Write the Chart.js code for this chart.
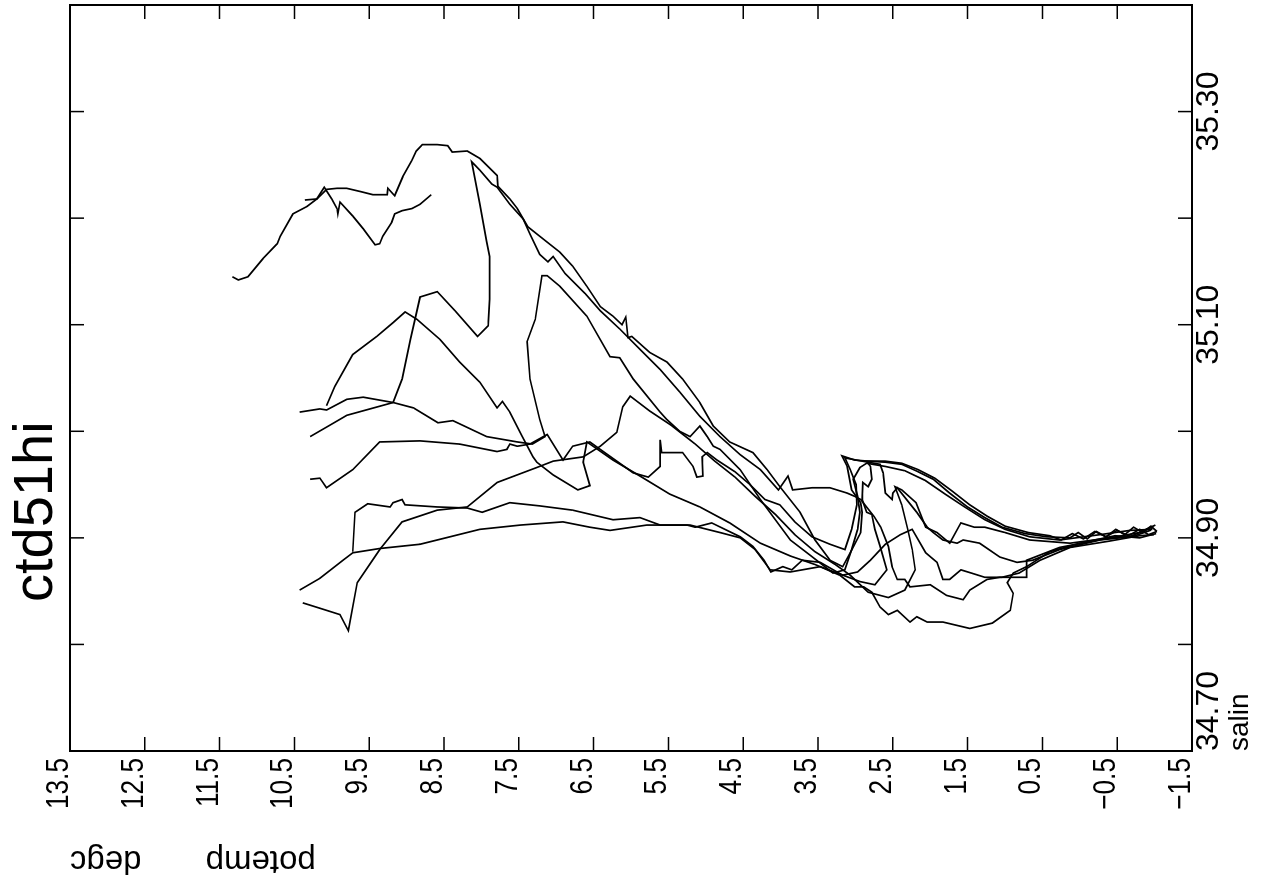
<!DOCTYPE html>
<html>
<head>
<meta charset="utf-8">
<title>ctd51hi</title>
<script src="https://cdn.jsdelivr.net/npm/chart.js@4.4.1/dist/chart.umd.min.js"></script>
<style>
  html, body { margin: 0; padding: 0; background: #fff; overflow: hidden; width: 1267px; height: 882px; }
  /* the T-S plot is laid out upright and then turned a quarter turn to the left */
  #turn { position: absolute; left: 0; top: 0; width: 882px; height: 1267px;
          transform-origin: 0 0; transform: translate(0, 882px) rotate(-90deg); }
</style>
</head>
<body>
<div id="turn"><canvas id="ts" width="882" height="1267"></canvas></div>
<script>
// station profiles, pairs of [salin, potemp degC]
const stn1 = [[35.145,11.33],[35.142,11.25],[35.145,11.12],[35.162,10.92],[35.176,10.73],[35.183,10.69],[35.204,10.52],[35.211,10.33],[35.218,10.20],[35.229,10.10],[35.218,10.00],[35.209,9.93],[35.204,9.92],[35.215,9.89],[35.202,9.72],[35.190,9.58],[35.175,9.42],[35.176,9.36],[35.183,9.32],[35.196,9.20],[35.204,9.16],[35.207,9.06],[35.209,8.93],[35.213,8.82],[35.222,8.67]];
const stn2 = [[35.217,10.36],[35.218,10.20],[35.227,10.07],[35.228,9.93],[35.228,9.80],[35.225,9.62],[35.222,9.45],[35.222,9.26],[35.228,9.25],[35.221,9.16],[35.239,9.05],[35.254,8.93],[35.263,8.87],[35.269,8.79],[35.269,8.59],[35.268,8.45],[35.262,8.39],[35.263,8.19],[35.256,8.02],[35.240,7.79],[35.230,7.78],[35.218,7.62],[35.209,7.52],[35.192,7.38],[35.183,7.22],[35.168,6.95],[35.155,6.78],[35.136,6.59],[35.117,6.41],[35.108,6.24],[35.100,6.12],[35.107,6.07],[35.088,6.04],[35.089,5.99],[35.074,5.75],[35.065,5.52],[35.049,5.31],[35.027,5.08],[35.005,4.90],[34.990,4.68],[34.980,4.37],[34.964,4.18],[34.948,4.01],[34.924,3.74],[34.898,3.54],[34.879,3.34],[34.873,3.17],[34.886,3.07],[34.905,2.93],[34.924,2.91],[34.933,2.93],[34.945,3.05],[34.967,3.11],[34.977,3.18],[34.973,3.01],[34.972,2.83],[34.971,2.60],[34.969,2.38],[34.962,2.16],[34.955,1.96],[34.942,1.74],[34.929,1.50],[34.919,1.27],[34.910,1.04],[34.904,0.73],[34.901,0.44],[34.900,0.13],[34.905,0.02],[34.899,-0.10],[34.906,-0.22],[34.901,-0.35],[34.908,-0.48],[34.903,-0.60],[34.910,-0.72],[34.905,-0.84],[34.911,-0.95],[34.906,-1.03]];
const stn3 = [[34.995,10.29],[35.006,10.02],[35.015,9.80],[35.021,9.49],[35.027,9.18],[35.049,9.06],[35.086,8.95],[35.126,8.82],[35.131,8.59],[35.113,8.35],[35.089,8.05],[35.099,7.91],[35.124,7.89],[35.164,7.89],[35.178,7.93],[35.213,8.02],[35.253,8.13],[35.245,8.02],[35.232,7.86],[35.229,7.79],[35.213,7.62],[35.199,7.44],[35.185,7.35],[35.166,7.22],[35.159,7.11],[35.164,7.04],[35.148,6.88],[35.129,6.61],[35.113,6.41],[35.096,6.15],[35.077,5.88],[35.058,5.61],[35.037,5.35],[35.014,5.08],[34.995,4.81],[34.978,4.54],[34.964,4.27],[34.945,4.03],[34.958,3.90],[34.945,3.84],[34.947,3.58],[34.947,3.34],[34.942,3.11],[34.939,3.01],[34.936,2.93],[34.920,2.75],[34.910,2.66],[34.892,2.56],[34.873,2.51],[34.861,2.44],[34.861,2.34],[34.854,2.27],[34.856,2.00],[34.846,1.78],[34.842,1.56],[34.851,1.47],[34.861,1.24],[34.863,1.07],[34.863,0.71],[34.879,0.71],[34.891,0.27],[34.900,-0.40],[34.902,-0.74],[34.907,-0.94],[34.911,-0.98]];
const stn4 = [[35.024,10.07],[35.042,9.96],[35.072,9.72],[35.089,9.40],[35.102,9.18],[35.112,9.02],[35.105,8.86],[35.086,8.55],[35.065,8.29],[35.046,8.02],[35.022,7.79],[35.028,7.72],[35.018,7.62],[34.996,7.46],[34.976,7.31],[34.971,7.26],[34.959,7.04],[34.945,6.71],[34.949,6.55],[34.971,6.64],[34.990,6.59],[34.973,6.24],[34.958,5.88],[34.941,5.48],[34.929,5.08],[34.914,4.68],[34.895,4.27],[34.883,3.87],[34.875,3.54],[34.865,3.21],[34.854,3.01],[34.854,2.89],[34.849,2.78],[34.835,2.67],[34.828,2.56],[34.832,2.44],[34.821,2.27],[34.826,2.18],[34.821,2.04],[34.821,1.83],[34.815,1.47],[34.820,1.17],[34.832,0.93],[34.848,0.89],[34.858,0.97],[34.867,0.89],[34.873,0.71],[34.887,0.40],[34.895,0.00],[34.902,-0.47],[34.900,-0.80],[34.904,-1.02]];
const stn5 = [[35.018,10.43],[35.021,10.16],[35.020,10.07],[35.030,9.80],[35.032,9.58],[35.027,9.18],[35.022,8.91],[35.008,8.58],[35.010,8.38],[34.995,7.93],[34.990,7.52],[34.988,7.32],[34.995,7.15],[35.011,7.22],[35.049,7.35],[35.084,7.39],[35.105,7.28],[35.146,7.19],[35.146,7.12],[35.136,6.95],[35.108,6.59],[35.070,6.28],[35.069,6.15],[35.049,5.97],[35.018,5.61],[35.011,5.52],[35.000,5.35],[34.995,5.21],[35.005,5.08],[34.995,4.98],[34.986,4.90],[34.983,4.81],[34.964,4.54],[34.936,4.27],[34.898,3.87],[34.884,3.61],[34.867,3.30],[34.870,3.14],[34.889,3.05],[34.908,2.97],[34.924,2.94],[34.939,2.97],[34.955,3.03],[34.966,2.94],[34.970,2.85],[34.967,2.60],[34.963,2.34],[34.954,2.07],[34.941,1.80],[34.929,1.54],[34.917,1.27],[34.908,1.00],[34.901,0.67],[34.898,0.27],[34.903,-0.27],[34.907,-0.67],[34.908,-0.97]];
const stn6 = [[34.955,10.29],[34.956,10.16],[34.953,10.13],[34.947,10.07],[34.964,9.72],[34.990,9.36],[34.991,8.82],[34.988,8.29],[34.981,7.79],[34.983,7.66],[34.988,7.62],[34.986,7.52],[34.988,7.35],[34.997,7.12],[34.973,6.91],[34.986,6.78],[34.990,6.55],[34.983,6.41],[34.961,5.97],[34.957,5.77],[34.967,5.61],[34.992,5.61],[34.980,5.59],[34.980,5.31],[34.967,5.17],[34.957,5.12],[34.958,5.04],[34.976,5.05],[34.980,4.98],[34.973,4.85],[34.962,4.61],[34.950,4.41],[34.936,4.21],[34.931,4.01],[34.915,3.81],[34.901,3.58],[34.894,3.34],[34.889,3.14],[34.908,3.05],[34.931,2.98],[34.950,2.99],[34.964,3.07],[34.975,3.14],[34.972,2.91],[34.969,2.67],[34.961,2.63],[34.942,2.60],[34.936,2.51],[34.942,2.50],[34.947,2.44],[34.924,2.18],[34.910,2.04],[34.905,1.96],[34.898,1.83],[34.895,1.64],[34.898,1.56],[34.895,1.34],[34.882,1.07],[34.877,0.84],[34.879,0.63],[34.889,0.27],[34.898,-0.27],[34.901,-0.67],[34.912,-1.01]];
const stn7 = [[34.887,9.72],[34.924,9.69],[34.932,9.52],[34.929,9.22],[34.933,9.18],[34.936,9.06],[34.931,9.02],[34.929,8.59],[34.928,8.19],[34.924,7.99],[34.933,7.62],[34.930,7.22],[34.926,6.78],[34.917,6.24],[34.919,5.88],[34.912,5.61],[34.912,5.25],[34.910,5.14],[34.914,4.92],[34.901,4.54],[34.892,4.37],[34.879,4.22],[34.868,4.13],[34.873,3.97],[34.870,3.85],[34.879,3.71],[34.877,3.47],[34.865,3.17],[34.868,2.97],[34.879,2.80],[34.894,2.60],[34.903,2.40],[34.908,2.24],[34.886,2.06],[34.877,1.91],[34.861,1.83],[34.861,1.74],[34.870,1.59],[34.867,1.45],[34.863,1.27],[34.863,1.04],[34.867,0.81],[34.879,0.53],[34.891,0.13],[34.897,-0.40],[34.902,-0.80],[34.903,-0.99]];
const stn8 = [[34.851,10.43],[34.862,10.16],[34.879,9.85],[34.886,9.72],[34.890,9.36],[34.894,8.82],[34.901,8.42],[34.908,8.02],[34.912,7.48],[34.915,6.91],[34.910,6.55],[34.907,6.28],[34.912,5.79],[34.912,5.21],[34.905,4.81],[34.900,4.54],[34.889,4.34],[34.870,4.14],[34.868,3.87],[34.873,3.47],[34.865,3.17],[34.859,2.94],[34.856,2.74],[34.870,2.58],[34.892,2.67],[34.908,2.74],[34.922,2.78],[34.924,2.85],[34.936,2.91],[34.952,2.90],[34.948,2.83],[34.955,2.78],[34.967,2.80],[34.972,2.85],[34.972,2.60],[34.970,2.38],[34.964,2.16],[34.956,1.94],[34.944,1.71],[34.931,1.47],[34.920,1.23],[34.911,1.00],[34.905,0.69],[34.902,0.40],[34.898,0.25],[34.904,0.10],[34.899,-0.05],[34.906,-0.20],[34.901,-0.35],[34.907,-0.50],[34.902,-0.65],[34.908,-0.80],[34.903,-0.92],[34.906,-1.03]];
const stn9 = [[34.839,10.39],[34.834,10.16],[34.828,9.89],[34.813,9.78],[34.858,9.66],[34.889,9.36],[34.915,9.06],[34.926,8.59],[34.929,8.19],[34.952,7.79],[34.966,7.26],[34.972,7.04],[34.976,6.64],[34.986,6.41],[34.999,6.19],[35.023,6.11],[35.033,6.01],[35.019,5.75],[35.005,5.45],[34.988,5.14],[34.972,4.88],[34.957,4.61],[34.939,4.34],[34.922,4.07],[34.903,3.81],[34.887,3.54],[34.875,3.27],[34.865,3.07],[34.849,2.83],[34.844,2.56],[34.851,2.34],[34.870,2.20],[34.889,2.24],[34.908,2.30],[34.931,2.38],[34.948,2.47],[34.945,2.38],[34.933,2.19],[34.910,2.06],[34.905,1.91],[34.895,1.74],[34.914,1.59],[34.910,1.41],[34.910,1.27],[34.905,1.00],[34.898,0.67],[34.895,0.13],[34.900,-0.40],[34.905,-0.80],[34.910,-0.96]];

const stations = [stn1, stn2, stn3, stn4, stn5, stn6, stn7, stn8, stn9];

// axis ticks and their labels
const salinTicks = [34.70, 34.80, 34.90, 35.00, 35.10, 35.20, 35.30, 35.40];
const salinLabels = ['34.70', '', '34.90', '', '35.10', '', '35.30', ''];
const tempTicks = [-1.5, -0.5, 0.5, 1.5, 2.5, 3.5, 4.5, 5.5, 6.5, 7.5, 8.5, 9.5, 10.5, 11.5, 12.5, 13.5];
const tempLabels = ['\u22121.5', '\u22120.5', '0.5', '1.5', '2.5', '3.5', '4.5', '5.5', '6.5', '7.5', '8.5', '9.5', '10.5', '11.5', '12.5', '13.5'];

const TICK_LEN = 14;
const SANS = '"Liberation Sans", Arial, sans-serif';

// box round the plot, inward tick marks on all four sides, the
// condensed potemp labels and the run name
const framePlugin = {
    id: 'frame',
    afterDraw(chart) {
        const { ctx, chartArea: a, scales: { x, y } } = chart;
        ctx.save();
        ctx.strokeStyle = '#000';
        ctx.lineWidth = 2;
        ctx.strokeRect(a.left, a.top, a.right - a.left, a.bottom - a.top);

        ctx.lineWidth = 1.5;
        ctx.beginPath();
        x.ticks.forEach(t => {
            const px = x.getPixelForValue(t.value);
            ctx.moveTo(px, a.bottom); ctx.lineTo(px, a.bottom - TICK_LEN);
            ctx.moveTo(px, a.top); ctx.lineTo(px, a.top + TICK_LEN);
        });
        y.ticks.forEach(t => {
            const py = y.getPixelForValue(t.value);
            ctx.moveTo(a.left, py); ctx.lineTo(a.left + TICK_LEN, py);
            ctx.moveTo(a.right, py); ctx.lineTo(a.right - TICK_LEN, py);
        });
        ctx.stroke();

        // potemp labels sit on the tick, squeezed like the plotter font
        ctx.fillStyle = '#000';
        ctx.font = '32px ' + SANS;
        ctx.textAlign = 'right';
        ctx.textBaseline = 'alphabetic';
        y.ticks.forEach((t, i) => {
            const py = y.getPixelForValue(t.value);
            ctx.save();
            ctx.translate(a.left - 7, py - 2);
            ctx.scale(0.82, 1);
            ctx.fillText(tempLabels[i], 0, 0);
            ctx.restore();
        });

        ctx.font = '56px ' + SANS;
        ctx.textAlign = 'left';
        ctx.fillText('ctd51hi', 280, 52);
        ctx.restore();
    }
};

new Chart(document.getElementById('ts'), {
    type: 'scatter',
    data: {
        datasets: stations.map(s => ({
            data: s.map(p => ({ x: p[0], y: p[1] })),
            showLine: true,
            borderColor: '#000',
            borderWidth: 1.7,
            pointRadius: 0,
            fill: false,
            tension: 0
        }))
    },
    options: {
        responsive: false,
        animation: false,
        devicePixelRatio: 1,
        layout: { padding: { top: 70, right: 5, left: 0, bottom: 0 } },
        plugins: {
            legend: { display: false },
            title: { display: false },
            tooltip: { enabled: false }
        },
        scales: {
            x: {
                type: 'linear',
                min: 34.70,
                max: 35.40,
                afterBuildTicks: s => { s.ticks = salinTicks.map(v => ({ value: v })); },
                afterFit: s => { s.height = 75; },
                grid: { display: false, drawTicks: false },
                border: { display: false },
                ticks: {
                    autoSkip: false,
                    maxRotation: 0,
                    minRotation: 0,
                    align: 'inner',
                    padding: -2,
                    color: '#000',
                    font: { family: SANS, size: 32 },
                    callback: (v, i) => salinLabels[i]
                },
                title: {
                    display: true,
                    text: 'salin',
                    align: 'start',
                    color: '#000',
                    font: { family: SANS, size: 28 },
                    padding: { top: 0, bottom: 10 }
                }
            },
            y: {
                type: 'linear',
                min: -1.5,
                max: 13.5,
                afterBuildTicks: s => { s.ticks = tempTicks.map(v => ({ value: v })); },
                afterFit: s => { s.width = 131; },
                grid: { display: false, drawTicks: false },
                border: { display: false },
                ticks: { display: false },
                title: {
                    display: true,
                    text: 'potemp       degc',
                    align: 'end',
                    color: '#000',
                    font: { family: SANS, size: 33 },
                    padding: { top: 2, bottom: 0 }
                }
            }
        }
    },
    plugins: [framePlugin]
});
</script>
</body>
</html>
